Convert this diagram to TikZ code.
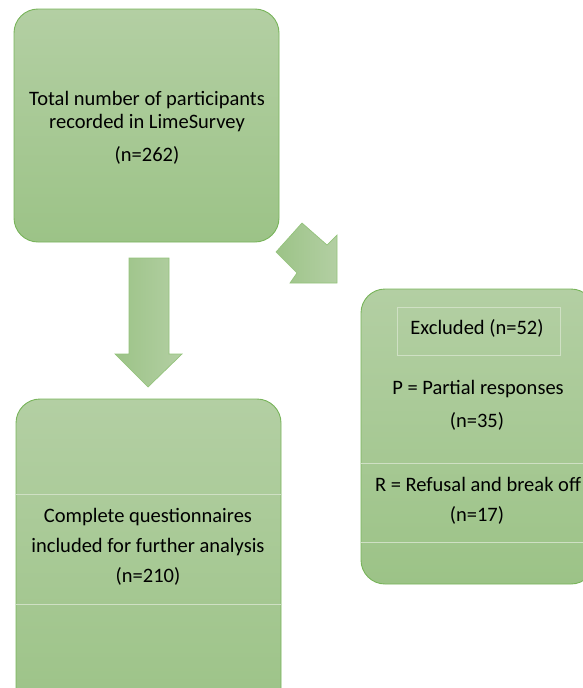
\documentclass[tikz,border=0pt]{standalone}
\usepackage{fontspec}
\setmainfont{Carlito}
\usepackage{xcolor}
\usetikzlibrary{arrows.meta, positioning}

\definecolor{boxtop}{HTML}{B3CFA3}
\definecolor{boxbottom}{HTML}{9CC387}
\definecolor{boxline}{HTML}{78B45A}
\definecolor{faintline}{HTML}{CFE0C4}

\begin{document}
\begin{tikzpicture}[x=1pt, y=-1pt, node distance=8pt, auto]
\tikzstyle{block} = [rectangle, draw=boxline, line width=0.9pt, top color=boxtop,
    bottom color=boxbottom, rounded corners=24pt, inner sep=0pt]
\tikzstyle{label} = [font=\fontsize{20.5}{30}\selectfont, text=black, align=center, inner sep=0pt]
\tikzstyle{bigarrow} = [draw=boxline!80, line width=0.7pt, left color=boxbottom, right color=boxtop]
\tikzstyle{faint} = [draw=faintline, line width=0.6pt]

\useasboundingbox (0,0) rectangle (583,688);
\clip (0,0) rectangle (583,688);

% Nodes
\node [block, minimum width=265pt, minimum height=233pt] (total) at (146.5,125.5) {};
\node [block, minimum width=265pt, minimum height=320pt] (complete) at (148.5,559) {};
\node [block, minimum width=234pt, minimum height=295pt] (excluded) at (478,436.5) {};

% Inner lines
\draw [faint] (397,307) rectangle (560,355);
\draw [faint] (excluded.west |- 0,463) -- (583,463);
\draw [faint] (excluded.west |- 0,542) -- (583,542);
\draw [faint] (complete.west |- 0,494) -- (complete.east |- 0,494);
\draw [faint] (complete.west |- 0,604) -- (complete.east |- 0,604);

% Texts
\node [label] (totaltxt) at (147,112) {Total number of participants\\[-7pt] recorded in LimeSurvey};
\node [label] (totaln) at (147,155) {(n=262)};
\node [label] (completetxt) at (148,547) {Complete questionnaires\\ included for further analysis\\ (n=210)};
\node [label] (exclhead) at (477,328) {Excluded (n=52)};
\node [label] (partial) at (478,389) {P = Partial responses};
\node [label] (partialn) at (477,421) {(n=35)};
\node [label] (refusal) at (478,484) {R = Refusal and break off};
\node [label] (refusaln) at (477,515) {(n=17)};

% Arrows
\path [bigarrow] (129,258) -- (169,258) -- (169,354) -- (182,354) -- (148,387)
    -- (115,354) -- (129,354) -- cycle;
\path [bigarrow] (276,252) -- (297,273) -- (290,283) -- (337,283) -- (337,235)
    -- (327,245) -- (302,223) -- cycle;
\end{tikzpicture}
\end{document}
